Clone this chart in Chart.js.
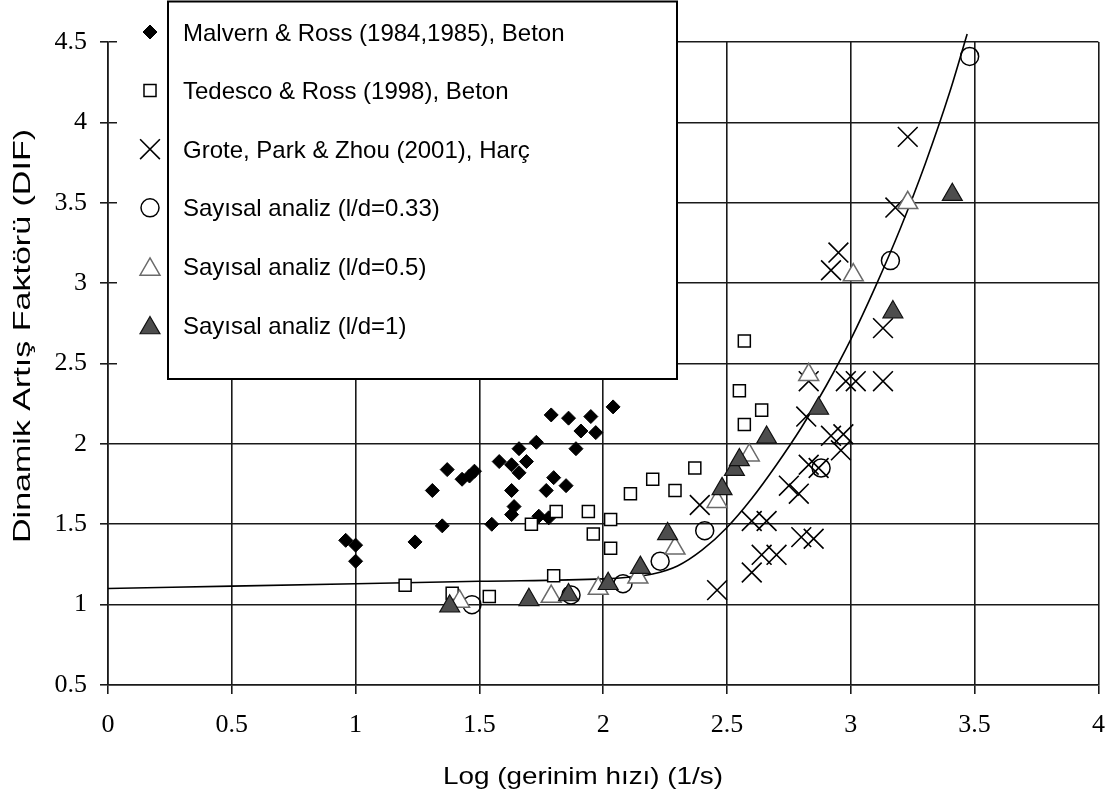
<!DOCTYPE html>
<html lang="tr">
<head>
<meta charset="utf-8">
<title>Dinamik Artış Faktörü</title>
<script src="https://cdn.jsdelivr.net/npm/chart.js@4.4.1/dist/chart.umd.min.js"></script>
<style>
  html, body { margin: 0; padding: 0; background: #fff; }
  #wrap { width: 1114px; height: 800px; }
</style>
</head>
<body>
<div id="wrap"><canvas id="difChart" width="1114" height="800"></canvas></div>
<script>
// axis ticks
const xTicks = [0, 0.5, 1, 1.5, 2, 2.5, 3, 3.5, 4];
const yTicks = [0.5, 1, 1.5, 2, 2.5, 3, 3.5, 4, 4.5];

// Malvern & Ross (1984,1985), Beton
const malvernX = [0.96, 1.0, 1.0, 1.24, 1.31, 1.35, 1.37, 1.43, 1.46, 1.48, 1.55, 1.58, 1.63, 1.63, 1.66, 1.66,
  1.69, 1.73, 1.64, 1.63, 1.74, 1.78, 1.77, 1.8, 1.85, 1.79, 1.86, 1.91, 1.89, 1.95, 1.97, 2.04];
const malvernY = [1.4, 1.37, 1.27, 1.39, 1.71, 1.49, 1.84, 1.78, 1.8, 1.83, 1.5, 1.89, 1.71, 1.87, 1.82, 1.97,
  1.89, 2.01, 1.61, 1.56, 1.55, 1.54, 1.71, 1.79, 1.74, 2.18, 2.16, 2.08, 1.97, 2.17, 2.07, 2.23];

// Tedesco & Ross (1998), Beton
const tedescoX = [1.2, 1.39, 1.54, 1.71, 1.8, 1.81, 1.94, 1.96, 2.03, 2.03, 2.11, 2.2, 2.29, 2.37, 2.55, 2.57, 2.57, 2.64];
const tedescoY = [1.12, 1.07, 1.05, 1.5, 1.18, 1.58, 1.58, 1.44, 1.53, 1.35, 1.69, 1.78, 1.71, 1.85, 2.33, 2.64, 2.12, 2.21];

// Grote, Park & Zhou (2001), Harç
const groteX = [2.46, 2.39, 2.6, 2.6, 2.66, 2.7, 2.64, 2.79, 2.75, 2.85, 2.8, 2.87, 2.83, 2.96, 2.97, 2.92,
  2.82, 2.83, 3.02, 2.98, 3.13, 3.13, 2.95, 2.92, 3.18, 3.23];
const groteY = [1.09, 1.62, 1.2, 1.52, 1.52, 1.31, 1.31, 1.69, 1.74, 1.41, 1.42, 1.85, 1.87, 1.96, 2.06, 2.05,
  2.17, 2.39, 2.39, 2.39, 2.39, 2.72, 3.19, 3.08, 3.47, 3.91];

// Sayısal analiz (l/d=0.33)
const ld033X = [1.47, 1.87, 2.08, 2.23, 2.41, 2.88, 3.16, 3.48];
const ld033Y = [1.0, 1.06, 1.13, 1.27, 1.46, 1.85, 3.14, 4.41];

// Sayısal analiz (l/d=0.5)
const ld05X = [1.42, 1.79, 1.98, 2.14, 2.29, 2.46, 2.59, 2.83, 3.01, 3.23];
const ld05Y = [1.02, 1.05, 1.1, 1.17, 1.35, 1.64, 1.93, 2.43, 3.05, 3.5];

// Sayısal analiz (l/d=1)
const ld1X = [1.38, 1.7, 1.86, 2.02, 2.15, 2.26, 2.48, 2.53, 2.55, 2.66, 2.87, 3.17, 3.41];
const ld1Y = [0.99, 1.03, 1.06, 1.13, 1.23, 1.44, 1.72, 1.84, 1.9, 2.04, 2.22, 2.82, 3.55];

// fitted curve
const curveX = [0, 0.5, 1.0, 1.5, 2.0, 2.1, 2.2, 2.3, 2.4, 2.5, 2.6, 2.7, 2.8, 2.9, 3.0, 3.1, 3.2, 3.3, 3.4, 3.47];
const curveY = [1.1, 1.115, 1.13, 1.145, 1.16, 1.17, 1.19, 1.24, 1.34, 1.48, 1.66, 1.87, 2.1, 2.36, 2.65, 2.98, 3.34, 3.74, 4.19, 4.55];

const GRID = "#1a1a1a";
const SANS = "'Liberation Sans', Arial, sans-serif";
const SERIF = "'Liberation Serif', 'Times New Roman', serif";

function toPoints(xs, ys) {
  return xs.map((x, i) => ({ x: x, y: ys[i] }));
}

const markerSets = [
  { label: "Malvern & Ross (1984,1985), Beton", xs: malvernX, ys: malvernY,
    pointStyle: "rectRot", radius: 7, fill: "#000", stroke: "#000", width: 1, order: 6 },
  { label: "Tedesco & Ross (1998), Beton", xs: tedescoX, ys: tedescoY,
    pointStyle: "rect", radius: 8.5, fill: "#fff", stroke: "#000", width: 1.5, order: 5 },
  { label: "Grote, Park & Zhou (2001), Harç", xs: groteX, ys: groteY,
    pointStyle: "crossRot", radius: 14, fill: "#000", stroke: "#000", width: 1.6, order: 4 },
  { label: "Sayısal analiz (l/d=0.33)", xs: ld033X, ys: ld033Y,
    pointStyle: "circle", radius: 9, fill: "rgba(0,0,0,0)", stroke: "#000", width: 1.5, order: 3 },
  { label: "Sayısal analiz (l/d=0.5)", xs: ld05X, ys: ld05Y,
    pointStyle: "triangle", radius: 11.5, fill: "#fff", stroke: "#6a6a6a", width: 1.5, order: 2 },
  { label: "Sayısal analiz (l/d=1)", xs: ld1X, ys: ld1Y,
    pointStyle: "triangle", radius: 11.5, fill: "#4d4d4d", stroke: "#111", width: 1.2, order: 1 },
];

const datasets = markerSets.map((s) => ({
  label: s.label,
  data: toPoints(s.xs, s.ys),
  pointStyle: s.pointStyle,
  pointRadius: s.radius,
  pointBackgroundColor: s.fill,
  pointBorderColor: s.stroke,
  pointBorderWidth: s.width,
  backgroundColor: s.fill,
  borderColor: s.stroke,
  borderWidth: s.width,
  showLine: false,
  order: s.order,
}));

datasets.push({
  label: "curve",
  data: toPoints(curveX, curveY),
  showLine: true,
  pointRadius: 0,
  borderColor: "#000",
  borderWidth: 1.6,
  cubicInterpolationMode: "monotone",
  clip: false,
  order: 7,
});

// text drawn with a horizontal stretch so it spans a given length
function stretchedText(ctx, text, x, y, length, angle) {
  ctx.save();
  ctx.translate(x, y);
  ctx.rotate(angle);
  const w = ctx.measureText(text).width;
  ctx.scale(length / w, 1);
  ctx.fillText(text, 0, 0);
  ctx.restore();
}

const decorPlugin = {
  id: "decor",
  afterDraw(chart) {
    const ctx = chart.ctx;

    // axis titles
    ctx.save();
    ctx.fillStyle = "#000";
    ctx.font = "24px " + SANS;
    ctx.textAlign = "center";
    ctx.textBaseline = "alphabetic";
    stretchedText(ctx, "Log (gerinim hızı) (1/s)", 583, 784, 280, 0);
    stretchedText(ctx, "Dinamik Artış Faktörü (DIF)", 30, 336, 414, -Math.PI / 2);
    ctx.restore();

    // legend box
    ctx.save();
    ctx.fillStyle = "#fff";
    ctx.fillRect(117, 0, 561, 380);
    ctx.strokeStyle = "#000";
    ctx.lineWidth = 2;
    ctx.strokeRect(168, 1.5, 509, 377.5);

    ctx.font = "24px " + SANS;
    ctx.textAlign = "left";
    ctx.textBaseline = "middle";
    markerSets.forEach((s, i) => {
      const y = 32 + i * 58.6;
      ctx.fillStyle = s.fill;
      ctx.strokeStyle = s.stroke;
      ctx.lineWidth = s.width;
      Chart.helpers.drawPoint(ctx, {
        pointStyle: s.pointStyle,
        radius: s.radius,
        borderWidth: s.width,
        rotation: 0,
      }, 150, s.pointStyle === "triangle" ? y + 3 : y);
      ctx.fillStyle = "#000";
      ctx.fillText(s.label, 183, y + 2);
    });
    ctx.restore();
  },
};

new Chart(document.getElementById("difChart"), {
  type: "scatter",
  data: { datasets },
  options: {
    responsive: false,
    animation: false,
    events: [],
    layout: { padding: { top: 42, right: 15, left: 0, bottom: 0 } },
    plugins: {
      legend: { display: false },
      tooltip: { enabled: false },
    },
    scales: {
      x: {
        type: "linear",
        min: 0,
        max: 4,
        afterBuildTicks: (scale) => {
          scale.ticks = xTicks.map((v) => ({ value: v }));
        },
        afterFit: (scale) => {
          scale.height = 115;
          scale.paddingLeft = 0;
          scale.paddingRight = 0;
        },
        ticks: {
          callback: (v) => String(v),
          font: { family: SERIF, size: 26 },
          color: "#000",
          padding: 16,
          maxRotation: 0,
          autoSkip: false,
        },
        grid: { color: GRID, lineWidth: 1.6, tickLength: 9 },
        border: { color: GRID, width: 1.6 },
      },
      y: {
        type: "linear",
        min: 0.5,
        max: 4.5,
        afterBuildTicks: (scale) => {
          scale.ticks = yTicks.map((v) => ({ value: v }));
        },
        afterFit: (scale) => {
          scale.width = 108;
          scale.paddingTop = 0;
          scale.paddingBottom = 0;
        },
        ticks: {
          callback: (v) => String(v),
          font: { family: SERIF, size: 26 },
          color: "#000",
          padding: 13,
          autoSkip: false,
        },
        grid: { color: GRID, lineWidth: 1.6, tickLength: 8 },
        border: { color: GRID, width: 1.6 },
      },
    },
  },
  plugins: [decorPlugin],
});
</script>
</body>
</html>
